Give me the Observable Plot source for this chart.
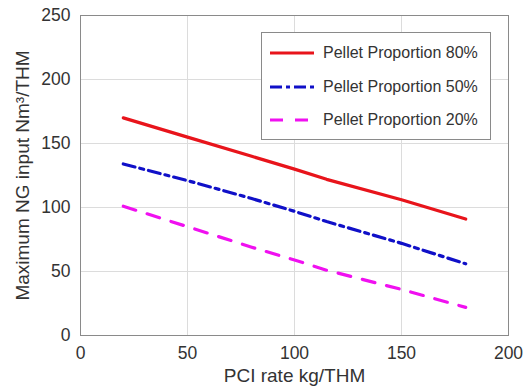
<!DOCTYPE html>
<html><head><meta charset="utf-8">
<script src="https://cdn.jsdelivr.net/npm/d3@7"></script>
<script src="https://cdn.jsdelivr.net/npm/@observablehq/plot@0.6"></script>
<style>
body{margin:0;background:#fff;font-family:"Liberation Sans",Arial,sans-serif;}
#wrap{position:relative;width:529px;height:392px;}
#legend{position:absolute;left:261px;top:32px;width:230px;height:108px;border:1px solid #8a8a8a;background:#fff;box-sizing:border-box;}
.li{position:absolute;left:8px;height:20px;display:flex;align-items:center;font-size:16px;color:#333;white-space:nowrap;}
.li svg{margin-right:9px;}
</style></head>
<body><div id="wrap"><div id="chart"></div><div id="legend"></div></div>
<script>
const pci = [20, 50, 80, 100, 115, 150, 180];
const p80 = [170, 155, 140, 130, 122, 106, 91];
const p50 = [134, 121, 107, 97, 89, 72, 56];
const p20 = [101, 85, 69, 59, 51, 36, 22];
const seriesNames = ["Pellet Proportion 80%", "Pellet Proportion 50%", "Pellet Proportion 20%"];
const seriesColors = ["#e8141b", "#1010c8", "#f010f0"];
const seriesDash = [null, "12,5,4,5", "13,12"];
const xTicks = [0, 50, 100, 150, 200];
const yTicks = [0, 50, 100, 150, 200, 250];

const seriesVals = [p80, p50, p20];
const data = seriesVals.flatMap((vals, i) => pci.map((x, j) => ({x, y: vals[j], s: seriesNames[i]})));

const chart = Plot.plot({
  width: 529, height: 392,
  marginLeft: 80, marginRight: 21, marginTop: 15, marginBottom: 57,
  style: {fontFamily: '"Liberation Sans", Arial, sans-serif', fontSize: "18px", color: "#333"},
  x: {domain: [0, 200]},
  y: {domain: [0, 250]},
  marks: [
    Plot.gridX(xTicks, {stroke: "#dcdcdc", strokeOpacity: 1}),
    Plot.gridY(yTicks, {stroke: "#dcdcdc", strokeOpacity: 1}),
    Plot.frame({stroke: "#8a8a8a"}),
    Plot.axisX(xTicks, {tickSize: 0, tickPadding: 11, tickFormat: d => d, fontSize: 17.5, label: null}),
    Plot.axisX({label: "PCI rate kg/THM", labelAnchor: "center", labelArrow: "none", labelOffset: 46, fontSize: 19, ticks: [], tickSize: 0}),
    Plot.axisY(yTicks, {tickSize: 0, tickPadding: 10, tickFormat: d => d, fontSize: 17.5, label: null}),
    Plot.axisY({label: "Maximum NG input Nm³/THM", labelAnchor: "center", labelArrow: "none", labelOffset: 65, fontSize: 19, ticks: [], tickSize: 0}),
    ...seriesNames.map((name, i) => Plot.line(data.filter(d => d.s === name), {x: "x", y: "y", stroke: seriesColors[i], strokeWidth: 3.2, strokeDasharray: seriesDash[i]}))
  ]
});
document.getElementById("chart").appendChild(chart);

const leg = document.getElementById("legend");
seriesNames.forEach((name, i) => {
  const d = document.createElement("div");
  d.className = "li";
  d.style.top = (10 + i * 33.5) + "px";
  d.innerHTML = `<svg width="44" height="6"><line x1="0" y1="3" x2="44" y2="3" stroke="${seriesColors[i]}" stroke-width="3.2" ${seriesDash[i] ? `stroke-dasharray="${i===1 ? '12,4,4,4' : '13,12'}"` : ''}/></svg><span>${name}</span>`;
  leg.appendChild(d);
});
</script></body></html>
